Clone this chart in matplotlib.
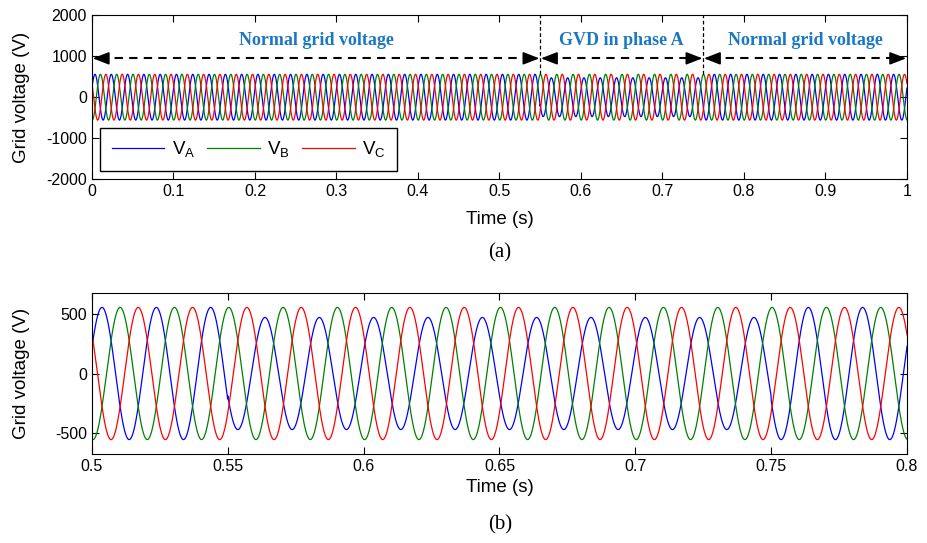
import matplotlib.pyplot as plt
import numpy as np

plt.rcParams.update({'font.family': 'Liberation Sans', 'font.size': 11,
                     'axes.unicode_minus': False})

# waveform parameters
f_grid = 50.0                      # Hz
phase_a = 0.41                     # rad, phase A offset
seg_edges = [0.0, 0.55, 0.75, 1.0] # s
amp_a = [560, 475, 560]            # V, phase A amplitude per segment
amp_b = [560, 560, 560]
amp_c = [560, 560, 560]
seg_labels = ['Normal grid voltage', 'GVD in phase A', 'Normal grid voltage']

t = np.linspace(0, 1, 20001)


def piecewise(amps):
    out = np.zeros_like(t)
    for k in range(len(amps)):
        m = (t >= seg_edges[k]) & (t <= seg_edges[k + 1])
        out[m] = amps[k]
    return out


w = 2 * np.pi * f_grid
va = piecewise(amp_a) * np.sin(w * t + phase_a)
vb = piecewise(amp_b) * np.sin(w * t + phase_a - 2 * np.pi / 3)
vc = piecewise(amp_c) * np.sin(w * t + phase_a + 2 * np.pi / 3)

cols = ['#0000ff', '#008000', '#ff0000']

fig = plt.figure(figsize=(9.28, 5.43), dpi=100)
ax1 = fig.add_axes([0.0991, 0.6704, 0.8782, 0.3012])
ax2 = fig.add_axes([0.0991, 0.1639, 0.8782, 0.2965])

for ax in (ax1, ax2):
    ax.plot(t, va, color=cols[0], lw=0.9, label=r'$\mathregular{V_A}$')
    ax.plot(t, vb, color=cols[1], lw=0.9, label=r'$\mathregular{V_B}$')
    ax.plot(t, vc, color=cols[2], lw=0.9, label=r'$\mathregular{V_C}$')
    ax.tick_params(direction='in', top=True, right=True, length=5, labelsize=11.5)
    ax.set_xlabel('Time (s)', fontsize=13.5)
    ax.set_ylabel('Grid voltage (V)', fontsize=13.5)
    ax.yaxis.set_label_coords(-0.076, 0.5)

# panel (a)
ax1.set_xlim(0, 1)
ax1.set_ylim(-2000, 2000)
ax1.set_xticks(np.arange(0, 1.01, 0.1))
ax1.set_xticklabels(['0', '0.1', '0.2', '0.3', '0.4', '0.5', '0.6', '0.7', '0.8', '0.9', '1'])
ax1.set_yticks([-2000, -1000, 0, 1000, 2000])
ax1.xaxis.labelpad = 9

leg = ax1.legend(loc='lower left', ncol=3, fancybox=False, edgecolor='black',
                 fontsize=13.5, handlelength=2.8, handletextpad=0.4,
                 columnspacing=0.65, borderpad=0.6, borderaxespad=0.45,
                 framealpha=1)
leg.get_frame().set_linewidth(1.0)

y_arrow = 950
for k in range(3):
    x0, x1 = seg_edges[k], seg_edges[k + 1]
    ax1.plot([x0 + 0.01, x1 - 0.01], [y_arrow, y_arrow], color='black', lw=1.5,
             linestyle=(0, (4, 3)))
    for tip, tail in ((x0 + 0.001, x0 + 0.02), (x1 - 0.001, x1 - 0.02)):
        ax1.annotate('', xy=(tip, y_arrow), xytext=(tail, y_arrow),
                     arrowprops=dict(arrowstyle='-|>,head_length=0.9,head_width=0.35',
                                     color='black', lw=1.2, shrinkA=0, shrinkB=0))
    ax1.text((x0 + x1) / 2, 1380, seg_labels[k], ha='center', va='center',
             fontsize=13, fontweight='bold', color='#1a78c2', family='Liberation Serif')

for xb in seg_edges[1:3]:
    ax1.plot([xb, xb], [560, 2000], color='black', lw=0.9, linestyle=(0, (3, 2)))

fig.text(0.5386, 0.534, '(a)', ha='center', va='center', fontsize=15, family='Liberation Serif')

# panel (b)
ax2.set_xlim(0.5, 0.8)
ax2.set_ylim(-682, 682)
ax2.set_xticks(np.arange(0.5, 0.801, 0.05))
ax2.set_xticklabels(['0.5', '0.55', '0.6', '0.65', '0.7', '0.75', '0.8'])
ax2.set_yticks([-500, 0, 500])
ax2.xaxis.labelpad = 4

fig.text(0.5386, 0.033, '(b)', ha='center', va='center', fontsize=15, family='Liberation Serif')

fig.savefig('out.png', dpi=100)
